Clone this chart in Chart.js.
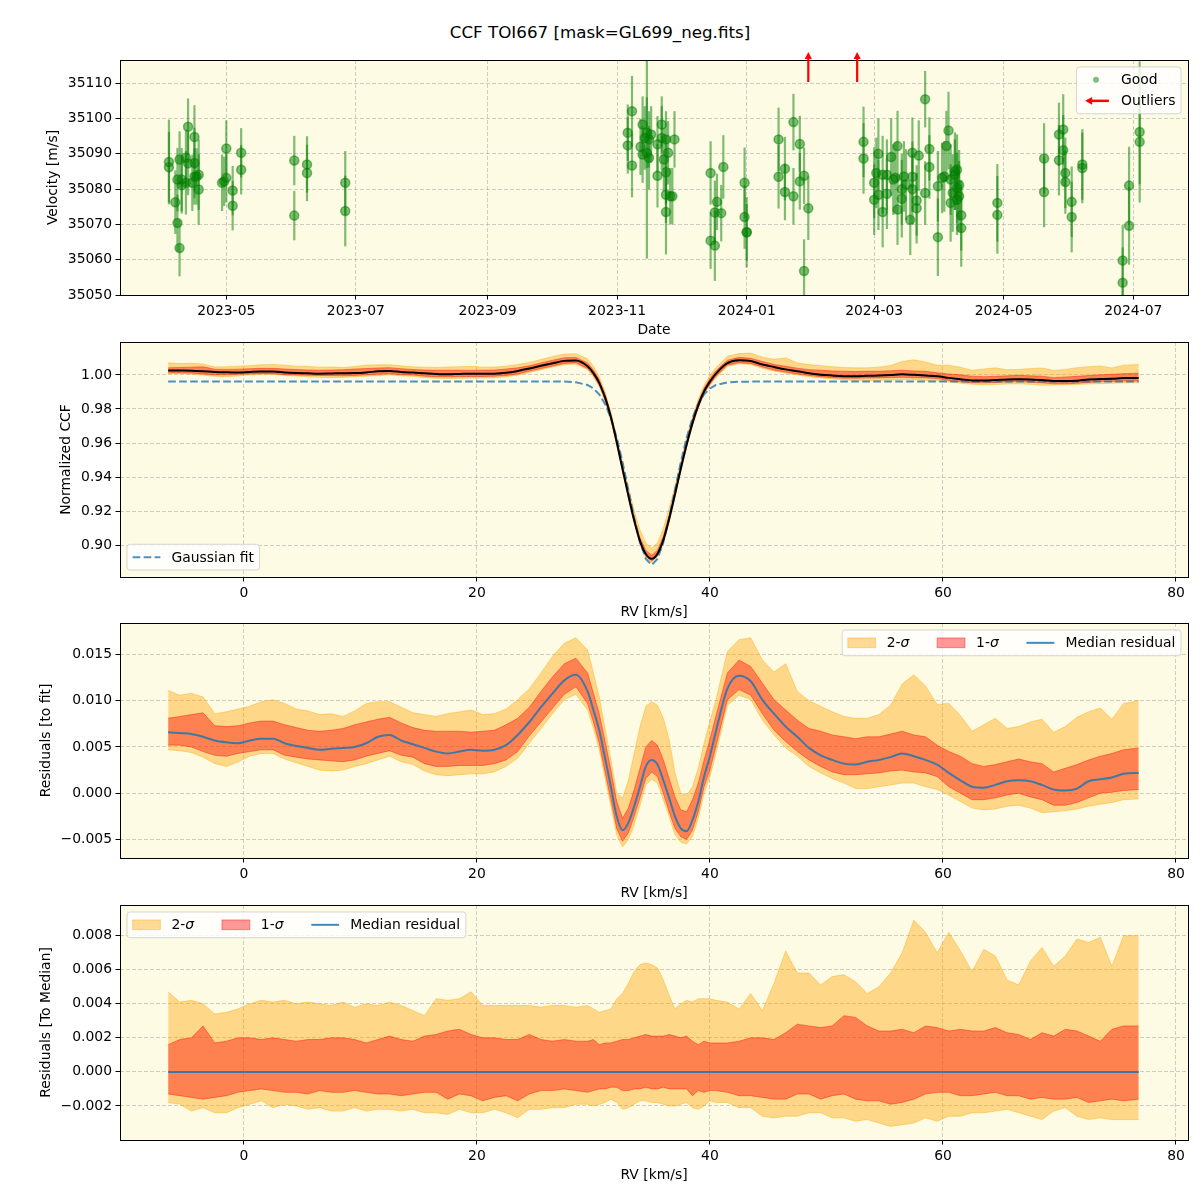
<!DOCTYPE html>
<html>
<head>
<meta charset="utf-8">
<title>CCF TOI667</title>
<script src="https://cdn.jsdelivr.net/npm/chart.js@4.4.1/dist/chart.umd.min.js"></script>
<style>
  body { margin: 0; background: #fff; }
  #page { position: relative; width: 1200px; height: 1200px; overflow: hidden; }
  #title { position: absolute; left: 0; top: 22px; width: 1200px; line-height: 20px; text-align: center;
           font: 16.7px "DejaVu Sans", sans-serif; color: #000; }
  canvas { position: absolute; left: 0; }
</style>
</head>
<body>
<div id="page">
  <div id="title">CCF TOI667 [mask=GL699_neg.fits]</div>
  <canvas id="velocity" width="1200" height="300" style="top:40px"></canvas>
  <canvas id="ccf" width="1200" height="300" style="top:322px"></canvas>
  <canvas id="residFit" width="1200" height="300" style="top:603px"></canvas>
  <canvas id="residMedian" width="1200" height="300" style="top:885px"></canvas>
</div>
<script>
// ---------- velocity time series (top panel) ----------
const rvDates = [
  '2023-04-04','2023-04-04','2023-04-07','2023-04-08','2023-04-09','2023-04-08','2023-04-09','2023-04-10','2023-04-10','2023-04-12',
  '2023-04-13','2023-04-13','2023-04-12','2023-04-15','2023-04-16','2023-04-16','2023-04-16','2023-04-17','2023-04-18','2023-04-18',
  '2023-04-29','2023-04-30','2023-05-01','2023-05-01','2023-05-04','2023-05-04','2023-05-08','2023-05-08','2023-06-02','2023-06-02',
  '2023-06-08','2023-06-08','2023-06-26','2023-06-26',
  '2023-11-06','2023-11-06','2023-11-08','2023-11-08','2023-11-12','2023-11-13','2023-11-13','2023-11-14','2023-11-15','2023-11-15',
  '2023-11-16','2023-11-17','2023-11-16','2023-11-20','2023-11-20','2023-11-22','2023-11-22','2023-11-23','2023-11-24','2023-11-24',
  '2023-11-24','2023-11-24','2023-11-25','2023-11-26','2023-11-27','2023-11-28',
  '2023-12-15','2023-12-15','2023-12-17','2023-12-17','2023-12-18','2023-12-20','2023-12-21','2023-12-31','2023-12-31','2024-01-01','2024-01-01',
  '2024-01-16','2024-01-16','2024-01-19','2024-01-19','2024-01-23','2024-01-23','2024-01-26','2024-01-26','2024-01-28','2024-01-28','2024-01-30',
  '2024-02-25','2024-02-25','2024-03-01','2024-03-01','2024-03-02','2024-03-03','2024-03-03','2024-03-05','2024-03-05','2024-03-07',
  '2024-03-07','2024-03-09','2024-03-10','2024-03-11','2024-03-12','2024-03-12','2024-03-14','2024-03-14','2024-03-15','2024-03-16',
  '2024-03-18','2024-03-19','2024-03-19','2024-03-19','2024-03-21','2024-03-21','2024-03-22','2024-03-25','2024-03-25','2024-03-27',
  '2024-03-27','2024-03-31','2024-03-31','2024-04-02','2024-04-03','2024-04-05','2024-04-04','2024-04-06','2024-04-06','2024-04-07',
  '2024-04-08','2024-04-08','2024-04-09','2024-04-09','2024-04-09','2024-04-10','2024-04-10','2024-04-11','2024-04-11',
  '2024-04-28','2024-04-28',
  '2024-05-20','2024-05-20','2024-05-27','2024-05-27','2024-05-29','2024-05-29','2024-05-30','2024-05-30','2024-06-02','2024-06-02','2024-06-07','2024-06-07',
  '2024-06-26','2024-06-26','2024-06-29','2024-06-29','2024-07-04','2024-07-04'
];
const rvValues = [
  35087.7,35086.2,35076.3,35070.4,35063.3,35082.7,35088.4,35082.7,35081.1,35088.9,
  35097.7,35087.3,35081.8,35081.8,35094.8,35087.4,35083.6,35083.6,35084.1,35079.9,
  35081.8,35082.2,35091.5,35083.2,35079.6,35075.3,35090.3,35085.5,35088.1,35072.5,
  35087.0,35084.6,35081.8,35073.8,
  35096.0,35092.4,35102.1,35086.7,35092.0,35089.8,35098.3,35094.5,35096.0,35090.3,
  35094.1,35095.5,35088.9,35083.8,35092.7,35098.3,35094.5,35088.4,35094.1,35084.8,
  35073.5,35078.4,35090.3,35078.0,35078.0,35094.1,
  35084.6,35065.4,35064.0,35073.4,35076.4,35073.2,35086.3,35081.8,35072.1,35067.8,35067.8,
  35094.1,35083.5,35085.8,35079.2,35099.0,35078.0,35092.8,35082.2,35083.8,35056.8,35074.6,
  35093.4,35088.7,35081.8,35077.0,35084.6,35090.0,35078.4,35084.1,35073.5,35078.7,
  35084.1,35089.1,35082.7,35083.2,35092.2,35074.2,35077.3,35080.0,35083.6,35081.3,
  35071.3,35090.3,35083.5,35080.0,35074.6,35076.8,35089.5,35105.5,35078.9,35091.4,
  35086.3,35080.8,35066.4,35083.2,35083.6,35096.6,35092.2,35082.7,35076.1,35078.9,
  35085.1,35084.1,35085.5,35080.3,35077.0,35081.1,35078.0,35072.6,35069.0,
  35076.1,35072.7,
  35088.7,35079.2,35095.5,35088.2,35096.9,35091.0,35084.6,35082.0,35076.4,35072.1,35087.0,35086.0,
  35059.8,35053.5,35081.0,35069.6,35096.2,35093.4
];
const rvErrors = [
  12,10,9,8,8,9,8,9,8,8, 8,9,9,8,9,10,8,8,10,10, 8,7,8,7,7,7,7,7,7,7, 8,8,9,10,
  8,8,10,9,8,8,8,9,10,30, 8,8,9,9,8,8,9,9,8,9, 12,8,9,8,8,8,
  9,8,10,9,8,8,9,10,9,10,8,
  9,9,9,8,8,8,8,8,8,9,9,
  10,10,10,10,10,10,10,11,10,10, 10,11,10,10,10,10,11,10,10,10, 10,10,10,10,10,10,10,8,9,9,
  9,10,11,10,10,11,10,10,11,11, 11,10,10,10,10,10,10,10,11,
  11,11,
  10,10,9,10,10,10,10,9,10,10,10,10,
  10,10,11,11,20,12
];
const outlierDates = ['2024-01-30', '2024-02-22'];
const dateTickLabels = ['2023-05','2023-07','2023-09','2023-11','2024-01','2024-03','2024-05','2024-07'];
const velocityTicks = [35050, 35060, 35070, 35080, 35090, 35100, 35110];

// ---------- CCF profile and residuals ----------
const rvGrid = [
  -6.5,-5.5,-4.5,-3.5,-2.5,-1.5,-0.5,0.5,1.5,2.5,3.5,4.5,5.5,6.5,7.5,8.5,9.5,10.5,11.5,12.5,
  13.5,14.5,15.5,16.5,17.5,18.5,19.5,20.5,21.5,22.5,23.5,24.5,25.5,26.5,27.5,28.5,29.5,
  30,30.5,31,31.5,32,32.5,33,33.5,34,34.5,35,35.5,36,36.5,37,37.5,38,38.5,39,39.5,40,
  40.5,41.5,42.5,43.5,44.5,45.5,46.5,47.5,48.5,49.5,50.5,51.5,52.5,53.5,54.5,55.5,56.5,57.5,58.5,59.5,
  60.5,61.5,62.5,63.5,64.5,65.5,66.5,67.5,68.5,69.5,70.5,71.5,72.5,73.5,74.5,75.5,76.8
];
const gaussFit = [
  0.9961,0.9961,0.9961,0.9961,0.9961,0.9961,0.9961,0.9961,0.9961,0.9961,0.9961,0.9961,0.9961,0.9961,0.9961,0.9961,0.9961,0.9961,0.9961,0.9961,
  0.9961,0.9961,0.9961,0.9961,0.9961,0.9961,0.9961,0.9961,0.9961,0.9961,0.9961,0.9961,0.9961,0.9961,0.9961,0.9957,0.9941,
  0.9921,0.9886,0.9830,0.9746,0.9631,0.9487,0.9324,0.9159,0.9016,0.8918,0.8883,0.8918,0.9016,0.9159,0.9324,0.9487,0.9631,0.9746,0.9830,0.9886,0.9921,
  0.9941,0.9957,0.9960,0.9961,0.9961,0.9961,0.9961,0.9961,0.9961,0.9961,0.9961,0.9961,0.9961,0.9961,0.9961,0.9961,0.9961,0.9961,0.9961,0.9961,
  0.9961,0.9961,0.9961,0.9961,0.9961,0.9961,0.9961,0.9961,0.9961,0.9961,0.9961,0.9961,0.9961,0.9961,0.9961,0.9961,0.9961
];
// residuals to the Gaussian fit
const fitResMedian = [
  0.0066,0.0065,0.0064,0.0061,0.0057,0.0055,0.0054,0.0057,0.0059,0.0059,0.0054,0.0051,0.0049,0.0047,0.0048,0.0049,0.0050,0.0054,0.0061,0.0063,
  0.0057,0.0053,0.0049,0.0045,0.0043,0.0045,0.0047,0.0046,0.0047,0.0052,0.0063,0.0077,0.0093,0.0108,0.0122,0.0128,0.0110,
  0.0090,0.0068,0.0038,0.0007,-0.0025,-0.0040,-0.0032,-0.0014,0.0007,0.0029,0.0036,0.0031,0.0014,-0.0005,-0.0025,-0.0038,-0.0041,-0.0029,-0.0009,0.0018,0.0040,
  0.0066,0.0113,0.0127,0.0121,0.0101,0.0086,0.0072,0.0061,0.0049,0.0041,0.0036,0.0032,0.0031,0.0034,0.0036,0.0039,0.0043,0.0040,0.0036,0.0031,
  0.0022,0.0014,0.0007,0.0006,0.0009,0.0013,0.0014,0.0013,0.0009,0.0004,0.0003,0.0005,0.0013,0.0015,0.0017,0.0021,0.0022
];
const fitRes1Hi = [
  0.0081,0.0083,0.0085,0.0087,0.0073,0.0072,0.0073,0.0076,0.0078,0.0078,0.0074,0.0071,0.0068,0.0067,0.0068,0.0070,0.0074,0.0077,0.0080,0.0082,
  0.0076,0.0071,0.0068,0.0067,0.0067,0.0067,0.0066,0.0067,0.0068,0.0074,0.0081,0.0093,0.0110,0.0126,0.0140,0.0146,0.0130,
  0.0108,0.0086,0.0056,0.0025,-0.0009,-0.0027,-0.0016,0.0004,0.0027,0.0050,0.0057,0.0052,0.0036,0.0016,-0.0004,-0.0018,-0.0020,-0.0007,0.0011,0.0036,0.0058,
  0.0083,0.0130,0.0144,0.0137,0.0119,0.0101,0.0090,0.0079,0.0070,0.0067,0.0063,0.0061,0.0059,0.0061,0.0061,0.0064,0.0067,0.0063,0.0061,0.0052,
  0.0045,0.0040,0.0032,0.0029,0.0031,0.0034,0.0037,0.0034,0.0032,0.0023,0.0027,0.0031,0.0036,0.0040,0.0043,0.0047,0.0049
];
const fitRes1Lo = [
  0.0052,0.0052,0.0050,0.0045,0.0041,0.0040,0.0043,0.0045,0.0047,0.0047,0.0041,0.0039,0.0037,0.0036,0.0035,0.0034,0.0036,0.0040,0.0043,0.0046,
  0.0041,0.0039,0.0032,0.0029,0.0029,0.0030,0.0030,0.0030,0.0032,0.0036,0.0045,0.0062,0.0077,0.0092,0.0107,0.0115,0.0097,
  0.0077,0.0054,0.0023,-0.0007,-0.0038,-0.0052,-0.0043,-0.0025,-0.0005,0.0016,0.0023,0.0018,0.0000,-0.0020,-0.0038,-0.0047,-0.0050,-0.0040,-0.0020,0.0007,0.0025,
  0.0050,0.0101,0.0112,0.0106,0.0086,0.0068,0.0056,0.0045,0.0036,0.0029,0.0023,0.0020,0.0020,0.0021,0.0022,0.0024,0.0025,0.0023,0.0022,0.0018,
  0.0007,0.0000,-0.0007,-0.0007,-0.0005,-0.0002,0.0000,-0.0004,-0.0007,-0.0013,-0.0013,-0.0010,-0.0005,0.0000,0.0001,0.0003,0.0004
];
const fitRes2Hi = [
  0.0111,0.0106,0.0108,0.0104,0.0086,0.0088,0.0091,0.0094,0.0099,0.0101,0.0097,0.0091,0.0089,0.0085,0.0086,0.0083,0.0089,0.0097,0.0099,0.0099,
  0.0093,0.0087,0.0085,0.0083,0.0086,0.0088,0.0090,0.0085,0.0086,0.0091,0.0101,0.0113,0.0130,0.0148,0.0162,0.0168,0.0155,
  0.0130,0.0104,0.0070,0.0036,0.0000,-0.0005,0.0014,0.0043,0.0072,0.0094,0.0099,0.0095,0.0081,0.0058,0.0022,0.0000,-0.0002,0.0007,0.0027,0.0054,0.0078,
  0.0100,0.0153,0.0166,0.0168,0.0144,0.0131,0.0140,0.0110,0.0100,0.0094,0.0088,0.0083,0.0081,0.0081,0.0085,0.0095,0.0118,0.0128,0.0116,0.0096,
  0.0097,0.0084,0.0067,0.0074,0.0081,0.0070,0.0072,0.0077,0.0080,0.0066,0.0072,0.0082,0.0088,0.0092,0.0080,0.0097,0.0100
];
const fitRes2Lo = [
  0.0047,0.0046,0.0044,0.0039,0.0032,0.0029,0.0034,0.0040,0.0043,0.0043,0.0037,0.0033,0.0029,0.0025,0.0024,0.0025,0.0029,0.0032,0.0036,0.0040,
  0.0034,0.0031,0.0024,0.0020,0.0019,0.0020,0.0021,0.0021,0.0023,0.0029,0.0038,0.0054,0.0070,0.0086,0.0101,0.0107,0.0090,
  0.0070,0.0047,0.0016,-0.0014,-0.0045,-0.0058,-0.0050,-0.0034,-0.0013,0.0009,0.0015,0.0011,-0.0007,-0.0025,-0.0045,-0.0053,-0.0055,-0.0047,-0.0027,0.0000,0.0018,
  0.0042,0.0095,0.0106,0.0101,0.0079,0.0063,0.0049,0.0040,0.0029,0.0022,0.0016,0.0011,0.0005,0.0005,0.0007,0.0009,0.0011,0.0011,0.0007,0.0004,
  -0.0002,-0.0009,-0.0016,-0.0018,-0.0017,-0.0014,-0.0013,-0.0016,-0.0021,-0.0020,-0.0019,-0.0017,-0.0014,-0.0012,-0.0010,-0.0007,-0.0006
];
// residuals to the median profile
const medResMedian = [0, 0];
const medRes1Hi = [
  0.0016,0.0019,0.0020,0.0027,0.0017,0.0018,0.0020,0.0020,0.0019,0.0020,0.0019,0.0018,0.0019,0.0019,0.0020,0.0020,0.0019,0.0017,0.0019,0.0021,
  0.0019,0.0018,0.0021,0.0022,0.0024,0.0025,0.0022,0.0020,0.0020,0.0019,0.0019,0.0022,0.0019,0.0018,0.0019,0.0018,0.0018,
  0.0019,0.0016,0.0017,0.0017,0.0018,0.0019,0.0019,0.0020,0.0021,0.0022,0.0021,0.0021,0.0021,0.0022,0.0021,0.0020,0.0021,0.0018,0.0016,0.0018,0.0017,
  0.0017,0.0017,0.0018,0.0020,0.0020,0.0019,0.0023,0.0028,0.0027,0.0026,0.0027,0.0033,0.0032,0.0027,0.0024,0.0024,0.0025,0.0023,0.0027,0.0026,
  0.0024,0.0025,0.0024,0.0024,0.0026,0.0023,0.0022,0.0019,0.0023,0.0021,0.0025,0.0024,0.0021,0.0018,0.0025,0.0027,0.0027
];
const medRes1Lo = [
  -0.0013,-0.0014,-0.0015,-0.0016,-0.0015,-0.0014,-0.0012,-0.0011,-0.0010,-0.0011,-0.0012,-0.0012,-0.0013,-0.0011,-0.0012,-0.0012,-0.0011,-0.0012,-0.0013,-0.0013,
  -0.0014,-0.0013,-0.0012,-0.0012,-0.0016,-0.0013,-0.0014,-0.0017,-0.0015,-0.0014,-0.0017,-0.0013,-0.0011,-0.0011,-0.0010,-0.0011,-0.0012,
  -0.0011,-0.0010,-0.0010,-0.0009,-0.0009,-0.0011,-0.0011,-0.0010,-0.0010,-0.0009,-0.0010,-0.0010,-0.0009,-0.0010,-0.0010,-0.0010,-0.0010,-0.0014,-0.0011,-0.0012,-0.0011,
  -0.0011,-0.0012,-0.0014,-0.0014,-0.0015,-0.0016,-0.0016,-0.0013,-0.0013,-0.0016,-0.0014,-0.0013,-0.0016,-0.0017,-0.0017,-0.0019,-0.0018,-0.0016,-0.0013,-0.0012,
  -0.0012,-0.0014,-0.0014,-0.0013,-0.0012,-0.0014,-0.0014,-0.0016,-0.0015,-0.0016,-0.0016,-0.0015,-0.0018,-0.0017,-0.0016,-0.0017,-0.0016
];
const medRes2Hi = [
  0.0047,0.0041,0.0042,0.0040,0.0034,0.0035,0.0037,0.0040,0.0042,0.0041,0.0042,0.0040,0.0041,0.0040,0.0039,0.0041,0.0038,0.0040,0.0039,0.0041,
  0.0039,0.0036,0.0033,0.0043,0.0042,0.0043,0.0047,0.0039,0.0039,0.0039,0.0039,0.0039,0.0038,0.0039,0.0039,0.0038,0.0039,
  0.0037,0.0035,0.0036,0.0037,0.0043,0.0046,0.0052,0.0059,0.0063,0.0064,0.0063,0.0061,0.0054,0.0045,0.0037,0.0040,0.0042,0.0041,0.0043,0.0043,0.0043,
  0.0042,0.0041,0.0037,0.0046,0.0036,0.0052,0.0071,0.0058,0.0058,0.0051,0.0056,0.0057,0.0053,0.0046,0.0050,0.0058,0.0070,0.0089,0.0082,0.0070,
  0.0082,0.0071,0.0059,0.0072,0.0068,0.0054,0.0051,0.0065,0.0073,0.0062,0.0068,0.0078,0.0076,0.0079,0.0062,0.0080,0.0080
];
const medRes2Lo = [
  -0.0018,-0.0019,-0.0023,-0.0021,-0.0024,-0.0024,-0.0021,-0.0019,-0.0017,-0.0021,-0.0019,-0.0020,-0.0022,-0.0021,-0.0023,-0.0023,-0.0021,-0.0023,-0.0022,-0.0022,
  -0.0023,-0.0022,-0.0024,-0.0024,-0.0025,-0.0022,-0.0024,-0.0024,-0.0022,-0.0024,-0.0027,-0.0022,-0.0022,-0.0021,-0.0021,-0.0019,-0.0019,
  -0.0020,-0.0019,-0.0018,-0.0016,-0.0018,-0.0022,-0.0021,-0.0019,-0.0017,-0.0017,-0.0018,-0.0018,-0.0019,-0.0020,-0.0020,-0.0019,-0.0018,-0.0021,-0.0022,-0.0020,-0.0017,
  -0.0018,-0.0018,-0.0021,-0.0021,-0.0026,-0.0027,-0.0026,-0.0026,-0.0024,-0.0024,-0.0027,-0.0027,-0.0029,-0.0028,-0.0030,-0.0032,-0.0031,-0.0030,-0.0027,-0.0029,
  -0.0026,-0.0026,-0.0024,-0.0024,-0.0023,-0.0022,-0.0024,-0.0026,-0.0028,-0.0023,-0.0021,-0.0026,-0.0028,-0.0027,-0.0028,-0.0028,-0.0028
];
const rvTicks = [0, 20, 40, 60, 80];
const ccfTicks = [0.90, 0.92, 0.94, 0.96, 0.98, 1.00];
const fitResTicks = [-0.005, 0, 0.005, 0.010, 0.015];
const medResTicks = [-0.002, 0, 0.002, 0.004, 0.006, 0.008];

// ---------- style ----------
const FONT_FAMILY = '"DejaVu Sans", sans-serif';
const FONT_SIZE = 13.9;
const PLOT_BG = '#fdfbe3';
const GRID = 'rgba(160,160,160,0.5)';
const SIG2 = 'rgba(255,165,0,0.4)';
const SIG1 = 'rgba(255,0,0,0.4)';
const MED = 'rgba(31,119,180,0.85)';
const FIT = 'rgba(31,119,180,0.8)';
const GOOD = 'rgba(0,128,0,0.5)';

Chart.defaults.font.family = FONT_FAMILY;
Chart.defaults.font.size = FONT_SIZE;
Chart.defaults.color = '#000';
Chart.defaults.animation = false;

const DAY0 = Date.UTC(2023, 0, 1);
const toDay = s => (Date.parse(s + 'T00:00:00Z') - DAY0) / 864e5;
const xy = (xs, ys) => xs.map((x, i) => ({x, y: ys[i]}));
const minus = s => s.replace('-', '\u2212');

// ---------- legend drawn inside the axes, matplotlib style ----------
const LEG = {pad: 5.6, handle: 27.8, gap: 11.1, colSpace: 27.8, rowH: 14.5, rowGap: 6.5, inset: 7};

function labelParts(label) {
  return label.split(/(σ)/).filter(s => s).map(s => ({s, it: s === 'σ'}));
}
function partsWidth(ctx, parts) {
  let w = 0;
  for (const p of parts) {
    ctx.font = (p.it ? 'italic ' : '') + FONT_SIZE + 'px ' + FONT_FAMILY;
    w += ctx.measureText(p.s).width;
  }
  return w;
}
function drawHandle(ctx, it, x, cy) {
  const w = LEG.handle;
  ctx.save();
  if (it.type === 'patch') {
    ctx.fillStyle = it.color;
    ctx.fillRect(x, cy - 4.9, w, 9.7);
    ctx.strokeStyle = it.color;
    ctx.lineWidth = 1;
    ctx.strokeRect(x, cy - 4.9, w, 9.7);
  } else if (it.type === 'line') {
    ctx.strokeStyle = it.color;
    ctx.lineWidth = 2;
    ctx.setLineDash(it.dash || []);
    ctx.beginPath(); ctx.moveTo(x, cy); ctx.lineTo(x + w, cy); ctx.stroke();
  } else if (it.type === 'dot') {
    ctx.fillStyle = it.color;
    ctx.beginPath(); ctx.arc(x + w / 2, cy, 3, 0, 2 * Math.PI); ctx.fill();
  } else if (it.type === 'arrow') {
    ctx.strokeStyle = ctx.fillStyle = it.color;
    ctx.lineWidth = 2.5;
    ctx.beginPath(); ctx.moveTo(x + w - 1, cy); ctx.lineTo(x + 8, cy); ctx.stroke();
    ctx.beginPath(); ctx.moveTo(x + 3, cy); ctx.lineTo(x + 10, cy - 3.8); ctx.lineTo(x + 10, cy + 3.8); ctx.closePath(); ctx.fill();
  }
  ctx.restore();
}
function drawLegend(chart, lg) {
  const {ctx, chartArea: a} = chart;
  ctx.save();
  const rows = lg.rows.map(row => row.map(it => ({...it, parts: labelParts(it.label)})));
  const widths = rows.map(row => row.reduce((w, it, i) =>
    w + (i ? LEG.colSpace : 0) + LEG.handle + LEG.gap + partsWidth(ctx, it.parts), 0));
  const W = Math.max(...widths) + 2 * LEG.pad;
  const H = rows.length * LEG.rowH + (rows.length - 1) * LEG.rowGap + 2 * LEG.pad;
  const x0 = lg.corner[1] === 'r' ? a.right - LEG.inset - W : a.left + LEG.inset;
  const y0 = lg.corner[0] === 'b' ? a.bottom - LEG.inset - H : a.top + LEG.inset;
  const r = 2.8;
  ctx.beginPath();
  ctx.moveTo(x0 + r, y0);
  ctx.arcTo(x0 + W, y0, x0 + W, y0 + H, r);
  ctx.arcTo(x0 + W, y0 + H, x0, y0 + H, r);
  ctx.arcTo(x0, y0 + H, x0, y0, r);
  ctx.arcTo(x0, y0, x0 + W, y0, r);
  ctx.closePath();
  ctx.fillStyle = 'rgba(255,255,255,0.8)';
  ctx.fill();
  ctx.strokeStyle = 'rgba(204,204,204,0.8)';
  ctx.lineWidth = 1;
  ctx.stroke();
  ctx.textBaseline = 'middle';
  ctx.fillStyle = '#000';
  rows.forEach((row, ri) => {
    let x = x0 + LEG.pad;
    const cy = y0 + LEG.pad + ri * (LEG.rowH + LEG.rowGap) + LEG.rowH / 2;
    row.forEach((it, i) => {
      if (i) x += LEG.colSpace;
      drawHandle(ctx, it, x, cy);
      x += LEG.handle + LEG.gap;
      for (const p of it.parts) {
        ctx.font = (p.it ? 'italic ' : '') + FONT_SIZE + 'px ' + FONT_FAMILY;
        ctx.fillStyle = '#000';
        ctx.fillText(p.s, x, cy + 1);
        x += ctx.measureText(p.s).width;
      }
    });
  });
  ctx.restore();
}

// background, frame and legend for every panel
const panelDecor = {
  id: 'panelDecor',
  beforeDraw(chart) {
    const {ctx, chartArea: a} = chart;
    ctx.save();
    ctx.fillStyle = PLOT_BG;
    ctx.fillRect(a.left, a.top, a.width, a.height);
    ctx.restore();
  },
  afterDraw(chart, args, opts) {
    const {ctx, chartArea: a} = chart;
    ctx.save();
    ctx.strokeStyle = '#000';
    ctx.lineWidth = 1;
    ctx.strokeRect(Math.round(a.left) + 0.5, Math.round(a.top) + 0.5,
                   Math.round(a.width), Math.round(a.height));
    ctx.restore();
    if (opts.legend) drawLegend(chart, opts.legend);
  }
};

const errorBars = {
  id: 'errorBars',
  beforeDatasetsDraw(chart) {
    const {ctx, chartArea: a, scales: {x, y}} = chart;
    ctx.save();
    ctx.beginPath(); ctx.rect(a.left, a.top, a.width, a.height); ctx.clip();
    ctx.strokeStyle = GOOD;
    ctx.lineWidth = 2.2;
    rvDates.forEach((d, i) => {
      const px = x.getPixelForValue(toDay(d));
      ctx.beginPath();
      ctx.moveTo(px, y.getPixelForValue(rvValues[i] - rvErrors[i]));
      ctx.lineTo(px, y.getPixelForValue(rvValues[i] + rvErrors[i]));
      ctx.stroke();
    });
    ctx.restore();
  }
};

// outliers lie above the plotted range: mark them with arrows at the top edge
const outlierArrows = {
  id: 'outlierArrows',
  afterDraw(chart) {
    const {ctx, chartArea: a, scales: {x}} = chart;
    ctx.save();
    ctx.strokeStyle = ctx.fillStyle = 'red';
    ctx.lineWidth = 2.2;
    outlierDates.forEach(d => {
      const px = x.getPixelForValue(toDay(d));
      ctx.beginPath(); ctx.moveTo(px, a.top + 22); ctx.lineTo(px, a.top - 2); ctx.stroke();
      ctx.beginPath(); ctx.moveTo(px, a.top - 8); ctx.lineTo(px - 3.6, a.top - 1); ctx.lineTo(px + 3.6, a.top - 1);
      ctx.closePath(); ctx.fill();
    });
    ctx.restore();
  }
};

function makeScales(o) {
  const grid = () => ({color: GRID, lineWidth: 1, tickLength: 4.5, tickColor: '#000', tickWidth: 1});
  const border = () => ({display: false, dash: [4, 2]});
  return {
    x: {
      type: 'linear', min: o.xMin, max: o.xMax,
      grid: grid(), border: border(),
      ticks: {padding: 4, autoSkip: false, maxRotation: 0, callback: o.xLabel},
      title: {display: true, text: o.xTitle, padding: {top: 0, bottom: 1.7}},
      afterBuildTicks: s => { s.ticks = o.xTicks.map(v => ({value: v})); },
      afterFit: s => { s.height = 45; }
    },
    y: {
      type: 'linear', min: o.yMin, max: o.yMax,
      grid: grid(), border: border(),
      ticks: {padding: 3.5, autoSkip: false, callback: o.yLabel},
      title: {display: true, text: o.yTitle, padding: {top: 0, bottom: 0}},
      afterBuildTicks: s => { s.ticks = o.yTicks.map(v => ({value: v})); },
      afterFit: s => { s.width = 120 - o.padLeft; }
    }
  };
}

function baseOptions(padLeft, scales, legend) {
  return {
    responsive: false,
    animation: false,
    layout: {padding: {top: 20, right: 12, bottom: 0, left: padLeft}},
    plugins: {legend: {display: false}, tooltip: {enabled: false}, panelDecor: {legend}},
    scales
  };
}

function bandSets(lo, hi, color, order) {
  return [
    {data: xy(rvGrid, lo), borderColor: color, borderWidth: 1, pointRadius: 0, fill: false, tension: 0, order: order + 1},
    {data: xy(rvGrid, hi), borderColor: color, backgroundColor: color, borderWidth: 1, pointRadius: 0, fill: '-1', tension: 0, order}
  ];
}

const sigmaLegend = corner => ({corner, rows: [[
  {type: 'patch', color: SIG2, label: '2-σ'},
  {type: 'patch', color: SIG1, label: '1-σ'},
  {type: 'line', color: MED, label: 'Median residual'}
]]});

// ---------- panel 1: velocities ----------
new Chart(document.getElementById('velocity'), {
  type: 'scatter',
  data: {datasets: [{
    label: 'Good',
    data: rvDates.map((d, i) => ({x: toDay(d), y: rvValues[i]})),
    pointRadius: 4.5, pointBackgroundColor: GOOD, pointBorderColor: GOOD, pointBorderWidth: 1.5
  }]},
  options: baseOptions(44.7, makeScales({
    padLeft: 44.7,
    xMin: toDay('2023-03-11') + 0.96, xMax: toDay('2024-07-26') + 0.75,
    xTicks: dateTickLabels.map(m => toDay(m + '-01')), xLabel: (v, i) => dateTickLabels[i], xTitle: 'Date',
    yMin: 35050, yMax: 35116.6, yTicks: velocityTicks, yLabel: v => String(v), yTitle: 'Velocity [m/s]'
  }), {corner: 'tr', rows: [
    [{type: 'dot', color: GOOD, label: 'Good'}],
    [{type: 'arrow', color: 'red', label: 'Outliers'}]
  ]}),
  plugins: [panelDecor, errorBars, outlierArrows]
});

// ---------- panel 2: normalized CCF (fit + residual) ----------
const ccfMedian = gaussFit.map((f, i) => f + fitResMedian[i]);
const ccf1Lo = gaussFit.map((f, i) => f + fitRes1Lo[i]);
const ccf1Hi = gaussFit.map((f, i) => f + fitRes1Hi[i]);
const ccf2Lo = gaussFit.map((f, i) => f + fitRes2Lo[i]);
const ccf2Hi = gaussFit.map((f, i) => f + fitRes2Hi[i]);

const rvAxis = {xMin: -10.63, xMax: 81.03, xTicks: rvTicks, xLabel: v => String(v), xTitle: 'RV [km/s]'};

new Chart(document.getElementById('ccf'), {
  type: 'line',
  data: {datasets: [
    ...bandSets(ccf2Lo, ccf2Hi, SIG2, 4),
    ...bandSets(ccf1Lo, ccf1Hi, SIG1, 2),
    {data: xy(rvGrid, gaussFit), borderColor: FIT, borderWidth: 2, borderDash: [7.7, 3.3], pointRadius: 0, fill: false, tension: 0, order: 1},
    {data: xy(rvGrid, ccfMedian), borderColor: '#000', borderWidth: 2, pointRadius: 0, fill: false, cubicInterpolationMode: 'monotone', order: 0}
  ]},
  options: baseOptions(57.7, makeScales({
    padLeft: 57.7, ...rvAxis,
    yMin: 0.8812, yMax: 1.0194, yTicks: ccfTicks, yLabel: v => v.toFixed(2), yTitle: 'Normalized CCF'
  }), {corner: 'bl', rows: [[{type: 'line', color: FIT, dash: [7.7, 3.3], label: 'Gaussian fit'}]]}),
  plugins: [panelDecor]
});

// ---------- panel 3: residuals to fit ----------
new Chart(document.getElementById('residFit'), {
  type: 'line',
  data: {datasets: [
    ...bandSets(fitRes2Lo, fitRes2Hi, SIG2, 4),
    ...bandSets(fitRes1Lo, fitRes1Hi, SIG1, 2),
    {data: xy(rvGrid, fitResMedian), borderColor: MED, borderWidth: 2, pointRadius: 0, fill: false, cubicInterpolationMode: 'monotone', order: 0}
  ]},
  options: baseOptions(37.7, makeScales({
    padLeft: 37.7, ...rvAxis,
    yMin: -0.0070, yMax: 0.0184, yTicks: fitResTicks, yLabel: v => minus(v.toFixed(3)), yTitle: 'Residuals [to fit]'
  }), sigmaLegend('tr')),
  plugins: [panelDecor]
});

// ---------- panel 4: residuals to median ----------
new Chart(document.getElementById('residMedian'), {
  type: 'line',
  data: {datasets: [
    ...bandSets(medRes2Lo, medRes2Hi, SIG2, 4),
    ...bandSets(medRes1Lo, medRes1Hi, SIG1, 2),
    {data: xy([rvGrid[0], rvGrid[rvGrid.length - 1]], medResMedian), borderColor: MED, borderWidth: 2, pointRadius: 0, fill: false, order: 0}
  ]},
  options: baseOptions(37.7, makeScales({
    padLeft: 37.7, ...rvAxis,
    yMin: -0.0040, yMax: 0.0098, yTicks: medResTicks, yLabel: v => minus(v.toFixed(3)), yTitle: 'Residuals [To Median]'
  }), sigmaLegend('tl')),
  plugins: [panelDecor]
});
</script>
</body>
</html>
